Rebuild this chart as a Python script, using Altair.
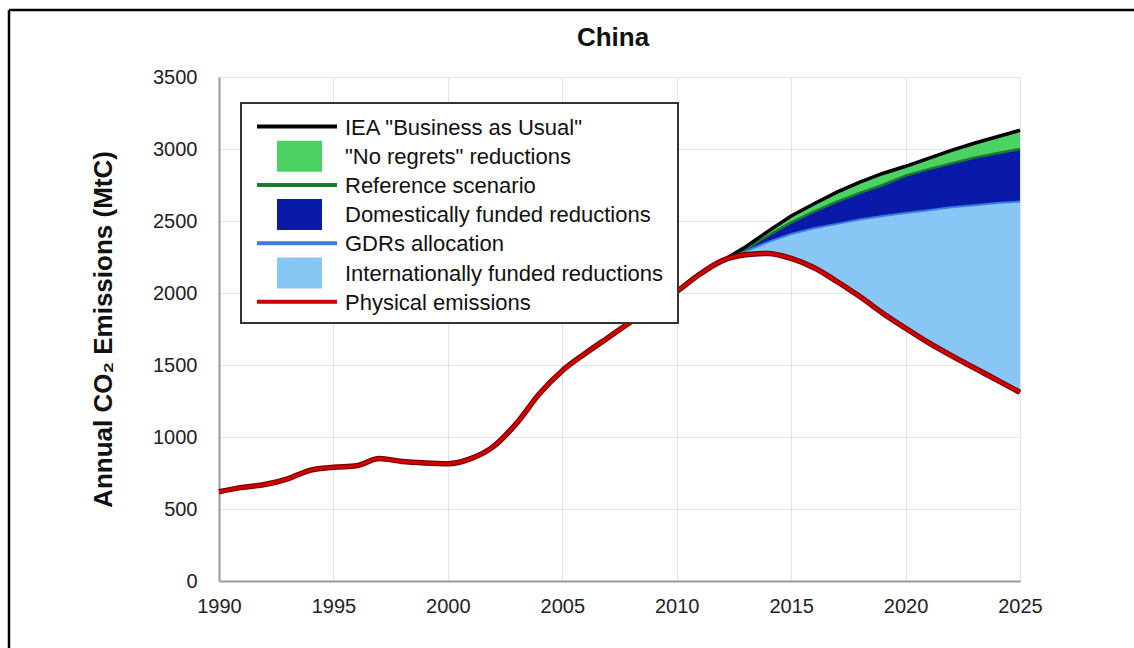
import altair as alt
import pandas as pd

# ---------------- data ----------------
hist_years = list(range(1990, 2026))
physical = [620, 650, 670, 710, 770, 790, 800, 850, 830, 820,
            815, 850, 935, 1095, 1300, 1460, 1580, 1690, 1800, 1905,
            2010, 2130, 2225, 2265, 2275, 2240, 2175, 2080, 1975, 1860,
            1755, 1655, 1565, 1480, 1395, 1310]

proj_years = list(range(2012, 2026))
bau = [2225, 2320, 2430, 2535, 2620, 2700, 2770, 2830, 2880, 2935, 2990, 3040, 3085, 3130]
reference = [2225, 2305, 2400, 2490, 2565, 2635, 2695, 2750, 2815, 2860, 2900, 2940, 2970, 3000]
gdrs = [2225, 2290, 2355, 2410, 2450, 2480, 2510, 2535, 2555, 2575, 2595, 2610, 2625, 2635]

legend_labels = ['IEA "Business as Usual"', '"No regrets" reductions', 'Reference scenario',
                 'Domestically funded reductions', 'GDRs allocation',
                 'Internationally funded reductions', 'Physical emissions']
legend_kinds = ['line', 'box', 'line', 'box', 'line', 'box', 'line']
legend_colors = ['#000000', '#4cd263', '#1e7b2e', '#0a1aa8', '#3d7de0', '#87c6f5', '#cc0000']

x_ticks = [1990, 1995, 2000, 2005, 2010, 2015, 2020, 2025]
y_ticks = [0, 500, 1000, 1500, 2000, 2500, 3000, 3500]
title_text = "China"

FONT = "Liberation Sans"

phys_idx = {y: v for y, v in zip(hist_years, physical)}
hist = pd.DataFrame({"year": hist_years, "physical": physical})
proj = pd.DataFrame({"year": proj_years, "bau": bau, "reference": reference, "gdrs": gdrs,
                     "physical": [phys_idx[y] for y in proj_years]})

X = alt.X("year:Q", scale=alt.Scale(domain=[1990, 2025], nice=False, zero=False),
          axis=alt.Axis(values=x_ticks, format="d", title=None, ticks=False, labelFlush=False,
                        labelPadding=15, labelFontSize=20, labelFont=FONT,
                        labelColor="#222222", gridColor="#e4e4e4",
                        domainColor="#9a9a9a", domainWidth=2))
Yscale = alt.Scale(domain=[0, 3500], nice=False)
Yaxis = alt.Axis(values=y_ticks, format="d", title="Annual CO₂ Emissions (MtC)", ticks=False,
                 labelFlush=False, labelPadding=22, labelFontSize=20, labelFont=FONT,
                 labelColor="#222222",
                 titleFont=FONT, titleFontSize=26, titleFontWeight="bold", titleColor="#111111",
                 titlePadding=36, gridColor="#e4e4e4", domainColor="#9a9a9a", domainWidth=2)

base_p = alt.Chart(proj)

intl = base_p.mark_area(color="#87c6f5", opacity=1).encode(
    x=X, y=alt.Y("physical:Q", scale=Yscale, axis=Yaxis), y2="gdrs:Q")
dom = base_p.mark_area(color="#0a1aa8", opacity=1).encode(x="year:Q", y="gdrs:Q", y2="reference:Q")
noreg = base_p.mark_area(color="#4cd263", opacity=1).encode(x="year:Q", y="reference:Q", y2="bau:Q")

gdr_line = base_p.mark_line(color="#3d7de0", strokeWidth=2).encode(x="year:Q", y="gdrs:Q")
ref_line = base_p.mark_line(color="#1e7b2e", strokeWidth=2.5).encode(x="year:Q", y="reference:Q")
bau_line = base_p.mark_line(color="#000000", strokeWidth=3.5).encode(x="year:Q", y="bau:Q")

base_h = alt.Chart(hist)
phys_dark = base_h.mark_line(color="#7a0000", strokeWidth=5.5, interpolate="monotone").encode(
    x="year:Q", y="physical:Q")
phys_line = base_h.mark_line(color="#d40000", strokeWidth=3, interpolate="monotone").encode(
    x="year:Q", y="physical:Q")

layers = [intl, dom, noreg, gdr_line, ref_line, bau_line, phys_dark, phys_line]

# ---------------- hand-built legend ----------------
one = pd.DataFrame({"a": [0]})
layers.append(alt.Chart(one).mark_rect(fill="white", stroke="#333333", strokeWidth=2).encode(
    x=alt.value(22), x2=alt.value(459), y=alt.value(26), y2=alt.value(246)))
row0, step = 49.5, 29.2
for i, (lab, kind, col) in enumerate(zip(legend_labels, legend_kinds, legend_colors)):
    cy = row0 + i * step
    if kind == "line":
        layers.append(alt.Chart(one).mark_rule(color=col, strokeWidth=4).encode(
            x=alt.value(38), x2=alt.value(118), y=alt.value(cy)))
    else:
        layers.append(alt.Chart(one).mark_rect(color=col).encode(
            x=alt.value(58), x2=alt.value(103), y=alt.value(cy - 15), y2=alt.value(cy + 16)))
    layers.append(alt.Chart(one).mark_text(text=lab, align="left", baseline="middle",
                                           font=FONT, fontSize=22, color="#111111").encode(
        x=alt.value(126), y=alt.value(cy + 1)))

# chart title as a text mark above the plot
layers.append(alt.Chart(one).mark_text(text=title_text, align="center", baseline="middle",
                                       font=FONT, fontSize=26, fontWeight="bold",
                                       color="#111111").encode(
    x=alt.value(394), y=alt.value(-39)))

# outer frame (top and left edges of the figure border)
layers.append(alt.Chart(one).mark_rule(color="black", strokeWidth=2.5).encode(
    x=alt.value(-210), x2=alt.value(915), y=alt.value(-67)))
layers.append(alt.Chart(one).mark_rule(color="black", strokeWidth=2.5).encode(
    x=alt.value(-210), y=alt.value(-67), y2=alt.value(571)))

chart = alt.layer(*layers).properties(
    width=801, height=504,
    autosize=alt.AutoSizeParams(type="none"),
    padding={"left": 219, "top": 77, "right": 114, "bottom": 67},
).configure_view(stroke="#bdbdbd", strokeWidth=2).configure(background="white")

chart.save("out.html", embed_options={"renderer": "svg", "actions": False})
